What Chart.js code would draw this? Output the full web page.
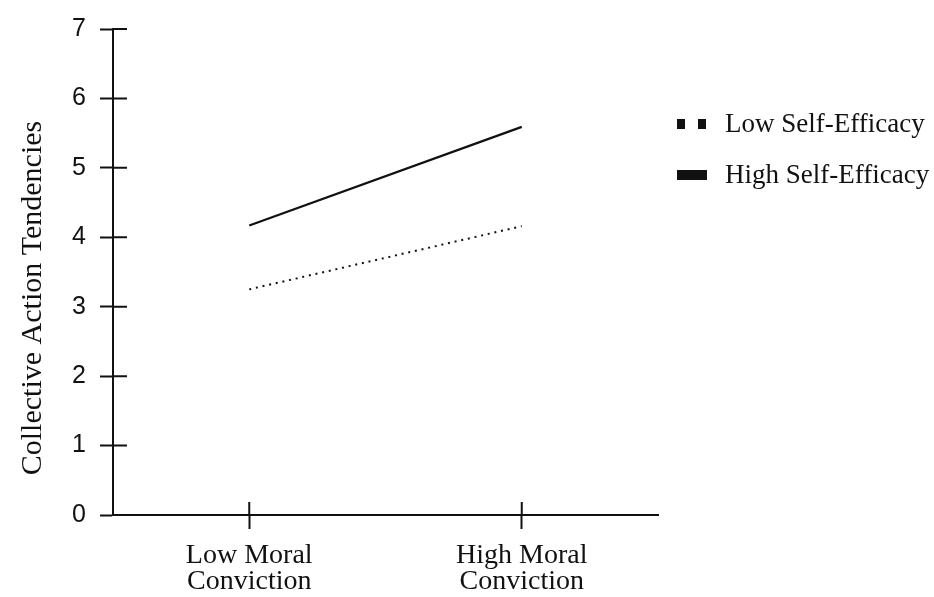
<!DOCTYPE html>
<html>
<head>
<meta charset="utf-8">
<script src="https://cdn.jsdelivr.net/npm/chart.js@4"></script>
<style>
  html, body { margin: 0; padding: 0; background: #fff; }
  #wrap { width: 934px; height: 597px; }
</style>
</head>
<body>
<div id="wrap"><canvas id="plot" width="934" height="597"></canvas></div>
<script>
// data
var categories = [["Low Moral", "Conviction"], ["High Moral", "Conviction"]];
var seriesNames = ["Low Self-Efficacy", "High Self-Efficacy"];
var lowEfficacy = [3.25, 4.16];
var highEfficacy = [4.17, 5.59];
var yTicks = [0, 1, 2, 3, 4, 5, 6, 7];
var yTitle = "Collective Action Tendencies";

var serif = "'Liberation Serif', 'Times New Roman', serif";
var sans = "'Liberation Sans', Arial, sans-serif";
var ink = "#111";

// inner halves of the tick marks, plus the legend and y title
var extras = {
  id: "extras",
  afterDraw: function (chart) {
    var ctx = chart.ctx;
    var xs = chart.scales.x;
    var ys = chart.scales.y;
    var area = chart.chartArea;
    ctx.save();
    ctx.strokeStyle = ink;
    ctx.lineWidth = 2;
    ctx.beginPath();
    yTicks.forEach(function (v) {
      var py = ys.getPixelForValue(v);
      ctx.moveTo(area.left, py);
      ctx.lineTo(area.left + 14, py);
    });
    categories.forEach(function (c, i) {
      var px = xs.getPixelForValue(i);
      ctx.moveTo(px, area.bottom);
      ctx.lineTo(px, area.bottom - 13);
    });
    ctx.stroke();

    // legend
    ctx.fillStyle = ink;
    ctx.font = "27px " + serif;
    ctx.textBaseline = "middle";
    var lx = 677, ly = [124, 175];
    ctx.fillRect(lx, ly[0] - 5, 8, 10);
    ctx.fillRect(lx + 21, ly[0] - 5, 8, 10);
    ctx.fillRect(lx, ly[1] - 5, 30, 10);
    ctx.fillText(chart.data.datasets[0].label, 725, ly[0] + 1);
    ctx.fillText(chart.data.datasets[1].label, 725, ly[1] + 1);

    // y title
    ctx.font = "30px " + serif;
    ctx.translate(33, 298);
    ctx.rotate(-Math.PI / 2);
    ctx.textAlign = "center";
    ctx.fillText(yTitle, 0, 0);
    ctx.restore();
  }
};

new Chart(document.getElementById("plot"), {
  type: "line",
  data: {
    labels: categories,
    datasets: [
      {
        label: seriesNames[0],
        data: lowEfficacy,
        borderColor: ink,
        borderWidth: 2,
        borderDash: [2, 4.8],
        pointRadius: 0,
        fill: false
      },
      {
        label: seriesNames[1],
        data: highEfficacy,
        borderColor: ink,
        borderWidth: 2.2,
        pointRadius: 0,
        fill: false
      }
    ]
  },
  options: {
    responsive: false,
    animation: false,
    layout: {
      padding: { top: 28, right: 276, left: 0, bottom: 0 }
    },
    plugins: {
      legend: { display: false },
      tooltip: { enabled: false }
    },
    scales: {
      x: {
        type: "category",
        offset: true,
        afterFit: function (scale) { scale.height = 82; },
        border: { display: true, color: ink, width: 2 },
        grid: {
          offset: false,
          drawOnChartArea: false,
          drawTicks: true,
          tickLength: 14,
          tickWidth: 2,
          tickColor: ink
        },
        ticks: {
          color: ink,
          padding: 13,
          maxRotation: 0,
          font: { family: serif, size: 28, lineHeight: 0.95 }
        }
      },
      y: {
        min: 0,
        max: 7,
        afterFit: function (scale) { scale.width = 113; },
        afterBuildTicks: function (scale) {
          scale.ticks = yTicks.map(function (v) { return { value: v }; });
        },
        border: { display: true, color: ink, width: 2 },
        grid: {
          drawOnChartArea: false,
          drawTicks: true,
          tickLength: 13,
          tickWidth: 2,
          tickColor: ink
        },
        ticks: {
          color: ink,
          padding: 14,
          font: { family: sans, size: 25 }
        }
      }
    }
  },
  plugins: [extras]
});
</script>
</body>
</html>
